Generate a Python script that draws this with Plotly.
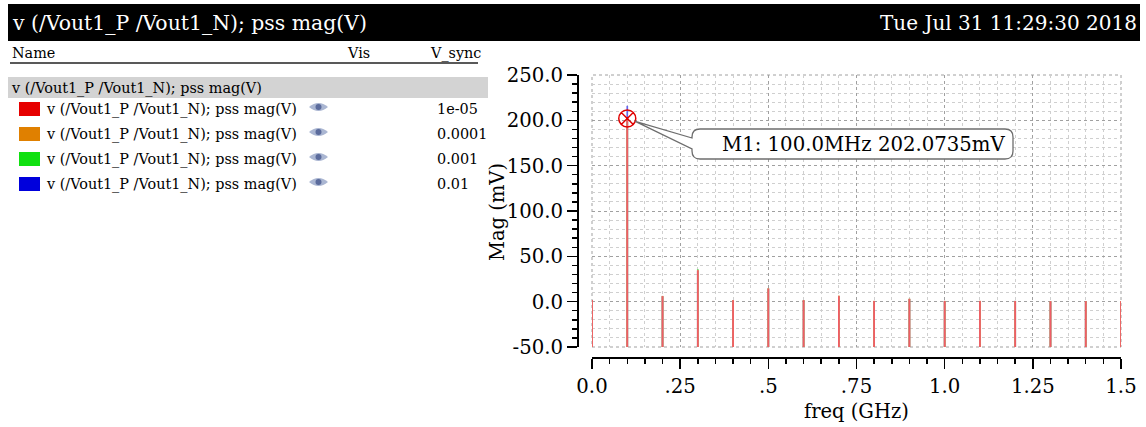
import plotly.graph_objects as go

W, H = 1146, 427

# PSS harmonic spectrum, magnitude in mV for each V_sync setting
freq_ghz = [0.0, 0.1, 0.2, 0.3, 0.4, 0.5, 0.6, 0.7, 0.8, 0.9, 1.0, 1.1, 1.2, 1.3, 1.4, 1.5]
mag_1e05 = [1.8, 202.0735, 6.0, 34.5, 1.6, 14.5, 1.6, 6.0, 0.8, 3.0, 0.8, 0.8, 0.8, 0.5, 0.5, 0.5]
mag_1e04 = [1.9, 202.3, 6.4, 35.0, 1.8, 14.8, 1.8, 6.8, 0.9, 3.4, 0.9, 0.9, 0.8, 0.6, 0.6, 0.6]
mag_1e03 = [1.8, 203.0, 6.1, 36.0, 1.7, 14.6, 1.7, 6.2, 0.8, 3.1, 0.8, 0.8, 0.8, 0.5, 0.5, 0.5]
mag_1e02 = [1.7, 216.0, 5.9, 34.0, 1.5, 14.2, 1.5, 5.9, 0.8, 2.9, 0.8, 0.8, 0.8, 0.5, 0.5, 0.5]

series_names = ["1e-05", "0.0001", "0.001", "0.01"]
series_values = [mag_1e05, mag_1e04, mag_1e03, mag_1e02]
series_colors = ["#e60000", "#e08000", "#10e010", "#0000dc"]
spike_colors = ["rgb(240,92,102)", "rgb(224,150,90)", "rgb(110,220,110)", "rgb(100,100,235)"]

trace_label = "v (/Vout1_P /Vout1_N); pss mag(V)"
date_label = "Tue Jul 31 11:29:30 2018"

marker_freq = 0.1
marker_mag = 202.0735
marker_text = "M1: 100.0MHz 202.0735mV"

x_range = [0.0, 1.5]
y_range = [-50.0, 250.0]
x_tickvals = [0.0, 0.25, 0.5, 0.75, 1.0, 1.25, 1.5]
x_ticktext = ["0.0", ".25", ".5", ".75", "1.0", "1.25", "1.5"]
y_tickvals = [-50, 0, 50, 100, 150, 200, 250]
y_ticktext = ["-50.0", "0.0", "50.0", "100.0", "150.0", "200.0", "250.0"]

FONT = "DejaVu Serif"

# plot area in pixels
PX0, PX1 = 592, 1121
PY_TOP, PY_BOT = 75, 347


def px(x):
    return x / W


def py(y):
    return 1 - y / H


def data_to_px(f, m):
    xp = PX0 + (f - x_range[0]) / (x_range[1] - x_range[0]) * (PX1 - PX0)
    yp = PY_BOT - (m - y_range[0]) / (y_range[1] - y_range[0]) * (PY_BOT - PY_TOP)
    return xp, yp


fig = go.Figure()

# spectral lines, drawn from the bottom of the axis up to each magnitude
for vals, col, name in list(zip(series_values, spike_colors, series_names))[::-1]:
    xs, ys = [], []
    for f, v in zip(freq_ghz, vals):
        xs += [f, f, None]
        ys += [y_range[0], v, None]
    fig.add_trace(go.Scatter(x=xs, y=ys, mode="lines", name=name,
                             line=dict(color=col, width=1.7),
                             hoverinfo="skip", showlegend=False))

# marker M1
fig.add_trace(go.Scatter(x=[marker_freq], y=[marker_mag], mode="markers",
                         marker=dict(symbol="circle-x-open", size=17,
                                     color="#e00000", line=dict(width=1.5, color="#e00000")),
                         hoverinfo="skip", showlegend=False))

shapes = []
annotations = []

# title bar
shapes.append(dict(type="rect", xref="paper", yref="paper",
                   x0=px(8), x1=px(1140), y0=py(41), y1=py(4),
                   fillcolor="black", line=dict(width=0), layer="below"))
annotations.append(dict(text=trace_label, x=px(10), y=py(23), xref="paper", yref="paper",
                        xanchor="left", yanchor="middle", showarrow=False,
                        font=dict(family=FONT, size=20.4, color="white")))
annotations.append(dict(text=date_label, x=px(1139), y=py(23), xref="paper", yref="paper",
                        xanchor="right", yanchor="middle", showarrow=False,
                        font=dict(family=FONT, size=20, color="white")))

# browser header
small = dict(family=FONT, size=14.4, color="black")
for txt, x in [("Name", 10), ("Vis", 345), ("V_sync", 428)]:
    annotations.append(dict(text=txt, x=px(x), y=py(53), xref="paper", yref="paper",
                            xanchor="left", yanchor="middle", showarrow=False, font=small))
shapes.append(dict(type="line", xref="paper", yref="paper",
                   x0=px(10), x1=px(478), y0=py(63), y1=py(63),
                   line=dict(color="#222222", width=1.4)))

# group row
shapes.append(dict(type="rect", xref="paper", yref="paper",
                   x0=px(8), x1=px(488), y0=py(98), y1=py(77),
                   fillcolor="#d3d3d3", line=dict(width=0), layer="below"))
annotations.append(dict(text=trace_label, x=px(9), y=py(88), xref="paper", yref="paper",
                        xanchor="left", yanchor="middle", showarrow=False, font=small))

# one row per V_sync setting
for i, (name, col) in enumerate(zip(series_names, series_colors)):
    yc = 109 + 25 * i
    shapes.append(dict(type="rect", xref="paper", yref="paper",
                       x0=px(19), x1=px(40), y0=py(yc + 7), y1=py(yc - 7),
                       fillcolor=col, line=dict(width=0)))
    annotations.append(dict(text=trace_label, x=px(44), y=py(yc), xref="paper", yref="paper",
                            xanchor="left", yanchor="middle", showarrow=False, font=small))
    annotations.append(dict(text=name, x=px(435), y=py(yc), xref="paper", yref="paper",
                            xanchor="left", yanchor="middle", showarrow=False, font=small))
    ey = yc - 2
    eye = (f"M{px(309)},{py(ey)} Q{px(318.5)},{py(ey - 8)} {px(328)},{py(ey)} "
           f"Q{px(318.5)},{py(ey + 8)} {px(309)},{py(ey)} Z")
    shapes.append(dict(type="path", xref="paper", yref="paper", path=eye,
                       fillcolor="#aab6d2", line=dict(width=0)))
    shapes.append(dict(type="circle", xref="paper", yref="paper",
                       x0=px(315.5), x1=px(321.5), y0=py(ey + 3), y1=py(ey - 3),
                       fillcolor="#5b6b9c", line=dict(width=0)))

# dotted frame around the plot area
shapes.append(dict(type="rect", xref="x domain", yref="y domain", x0=0, x1=1, y0=0, y1=1,
                   line=dict(color="#a0a0a0", width=1, dash="dot"), layer="below"))

# marker callout with leader
mx, my = data_to_px(marker_freq, marker_mag)
sx, sy = mx + 8, my + 3
bl, br, bt, bb, r = 692, 1013, 129, 159, 8
pts = [
    ("M", [(sx, sy)]),
    ("L", [(bl, 138)]),
    ("L", [(bl, bt + r)]),
    ("Q", [(bl, bt), (bl + r, bt)]),
    ("L", [(br - r, bt)]),
    ("Q", [(br, bt), (br, bt + r)]),
    ("L", [(br, bb - r)]),
    ("Q", [(br, bb), (br - r, bb)]),
    ("L", [(bl + r, bb)]),
    ("Q", [(bl, bb), (bl, bb - r)]),
    ("L", [(bl, 149)]),
]
path = " ".join(cmd + " ".join(f"{px(x)},{py(y)}" for x, y in p) for cmd, p in pts) + " Z"
shapes.append(dict(type="path", xref="paper", yref="paper", path=path,
                   fillcolor="white", line=dict(color="#6e6e6e", width=1.3)))
annotations.append(dict(text=marker_text, x=px(864), y=py(145), xref="paper", yref="paper",
                        xanchor="center", yanchor="middle", showarrow=False,
                        font=dict(family=FONT, size=19.7, color="black")))

# axis titles
annotations.append(dict(text="Mag (mV)", x=px(497), y=py(212), xref="paper", yref="paper",
                        xanchor="center", yanchor="middle", showarrow=False, textangle=-90,
                        font=dict(family=FONT, size=19.5, color="black")))
annotations.append(dict(text="freq (GHz)", x=px(856), y=py(411), xref="paper", yref="paper",
                        xanchor="center", yanchor="middle", showarrow=False,
                        font=dict(family=FONT, size=19.5, color="black")))

tickfont = dict(family=FONT, size=19.7, color="black")

fig.update_layout(
    width=W, height=H, autosize=False,
    margin=dict(l=0, r=0, t=0, b=0),
    paper_bgcolor="white", plot_bgcolor="white",
    showlegend=False, hovermode=False,
    shapes=shapes, annotations=annotations,
    xaxis=dict(
        domain=[px(PX0), px(PX1)], range=x_range, anchor="free", position=py(358),
        showline=True, linecolor="black", linewidth=2, zeroline=False,
        ticks="outside", ticklen=10, tickwidth=1.5, tickcolor="black",
        tickmode="array", tickvals=x_tickvals, ticktext=x_ticktext, tickfont=tickfont,
        showgrid=True, gridcolor="#a0a0a0", griddash="dot", gridwidth=1,
        minor=dict(tickmode="linear", tick0=0, dtick=0.05, ticks="outside", ticklen=5,
                   tickwidth=1.5, tickcolor="black", showgrid=True,
                   gridcolor="#cfcfcf", griddash="dot", gridwidth=1),
        automargin=False, fixedrange=True,
    ),
    yaxis=dict(
        domain=[py(PY_BOT), py(PY_TOP)], range=y_range, anchor="free", position=px(578),
        showline=True, linecolor="black", linewidth=2, zeroline=False,
        ticks="outside", ticklen=10, tickwidth=1.5, tickcolor="black",
        tickmode="array", tickvals=y_tickvals, ticktext=y_ticktext, tickfont=tickfont,
        showgrid=True, gridcolor="#a0a0a0", griddash="dot", gridwidth=1,
        minor=dict(tickmode="linear", tick0=0, dtick=10, ticks="outside", ticklen=5,
                   tickwidth=1.5, tickcolor="black", showgrid=True,
                   gridcolor="#cfcfcf", griddash="dot", gridwidth=1),
        automargin=False, fixedrange=True,
    ),
)

fig.write_html("out.html", config=dict(displayModeBar=False, staticPlot=True))
